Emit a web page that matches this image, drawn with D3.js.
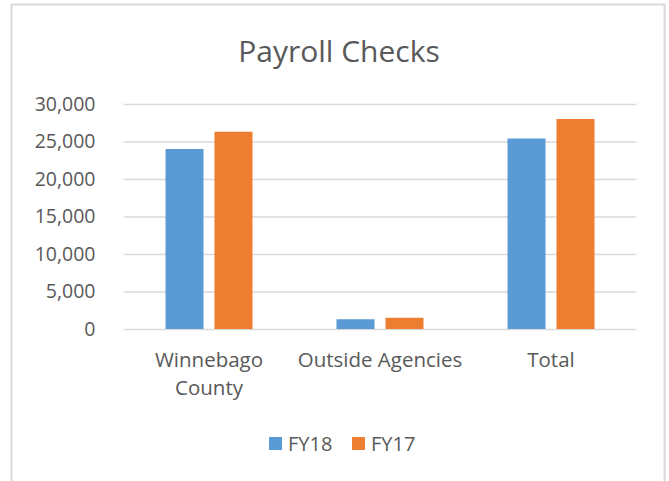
<!DOCTYPE html>
<html>
<head>
<meta charset="utf-8">
<script src="https://cdn.jsdelivr.net/npm/d3@7"></script>
<style>
  html, body { margin: 0; padding: 0; background: #fff; }
  svg { display: block; font-family: "Open Sans", sans-serif; }
</style>
</head>
<body>
<svg id="chart" width="669" height="481"></svg>
<script>
// Payroll checks, FY18 vs FY17, clustered bars.

const CATEGORIES = [["Winnebago", "County"], ["Outside Agencies"], ["Total"]];
const SERIES     = ["FY18", "FY17"];
const COLORS     = ["#5b9bd5", "#ed7d31"];
const FY18       = [24000, 1300, 25400];
const FY17       = [26300, 1500, 28000];
const Y_TICKS    = [0, 5000, 10000, 15000, 20000, 25000, 30000];

const plot = { left: 123.5, right: 636.5, top: 104, bottom: 329 };

const svg = d3.select("#chart");

// outer chart border
svg.append("rect")
  .attr("x", 11.5).attr("y", 4.5).attr("width", 653).attr("height", 500)
  .attr("fill", "#fff").attr("stroke", "#d9d9d9").attr("stroke-width", 2);

svg.append("text")
  .attr("x", 339).attr("y", 62).attr("text-anchor", "middle")
  .style("font-size", "30px").style("fill", "#595959")
  .text("Payroll Checks");

const x0 = d3.scaleBand().domain(d3.range(CATEGORIES.length))
  .range([plot.left, plot.right]).padding(0);
const groupW = 87;
const x1 = d3.scaleBand().domain(SERIES)
  .range([(x0.bandwidth() - groupW) / 2, (x0.bandwidth() + groupW) / 2])
  .paddingInner(0.224).paddingOuter(0);
const y = d3.scaleLinear().domain([0, 30000]).range([plot.bottom, plot.top]);

// gridlines + y labels
const yAxis = svg.append("g")
  .attr("transform", `translate(${plot.left},0)`)
  .call(d3.axisLeft(y).tickValues(Y_TICKS).tickFormat(d3.format(",")).tickSize(0).tickPadding(28))
  .call(ax => ax.select(".domain").remove());
yAxis.selectAll(".tick line").clone()
  .attr("x2", plot.right - plot.left).attr("stroke", "#d9d9d9").attr("stroke-width", 1.5);
yAxis.selectAll("text")
  .style("font-size", "19.5px").style("fill", "#595959").style("font-family", "'Open Sans', sans-serif");

// bars
const values = [FY18, FY17];
const groups = svg.append("g").selectAll("g")
  .data(CATEGORIES.map((c, i) => i))
  .join("g")
  .attr("transform", i => `translate(${x0(i)},0)`);

groups.selectAll("rect")
  .data(i => SERIES.map((s, k) => ({ s, k, v: values[k][i] })))
  .join("rect")
  .attr("x", d => x1(d.s))
  .attr("width", x1.bandwidth())
  .attr("y", d => y(d.v))
  .attr("height", d => y(0) - y(d.v))
  .attr("fill", d => COLORS[d.k]);

// category labels
const cat = svg.append("g").selectAll("text")
  .data(CATEGORIES)
  .join("text")
  .attr("x", (c, i) => x0(i) + x0.bandwidth() / 2)
  .attr("y", 367)
  .attr("text-anchor", "middle")
  .style("font-size", "20.5px").style("fill", "#595959");
cat.selectAll("tspan")
  .data(c => c)
  .join("tspan")
  .attr("x", function() { return this.parentNode.getAttribute("x"); })
  .attr("dy", (d, j) => j === 0 ? 0 : 28)
  .text(d => d);

// legend
const legendX = [269, 352];
const legend = svg.append("g").selectAll("g")
  .data(SERIES)
  .join("g")
  .attr("transform", (d, i) => `translate(${legendX[i]},437)`);
legend.append("rect")
  .attr("width", 13).attr("height", 13)
  .attr("fill", (d, i) => COLORS[i]);
legend.append("text")
  .attr("x", 19).attr("y", 14)
  .style("font-size", "20px").style("fill", "#595959")
  .text(d => d);
</script>
</body>
</html>
